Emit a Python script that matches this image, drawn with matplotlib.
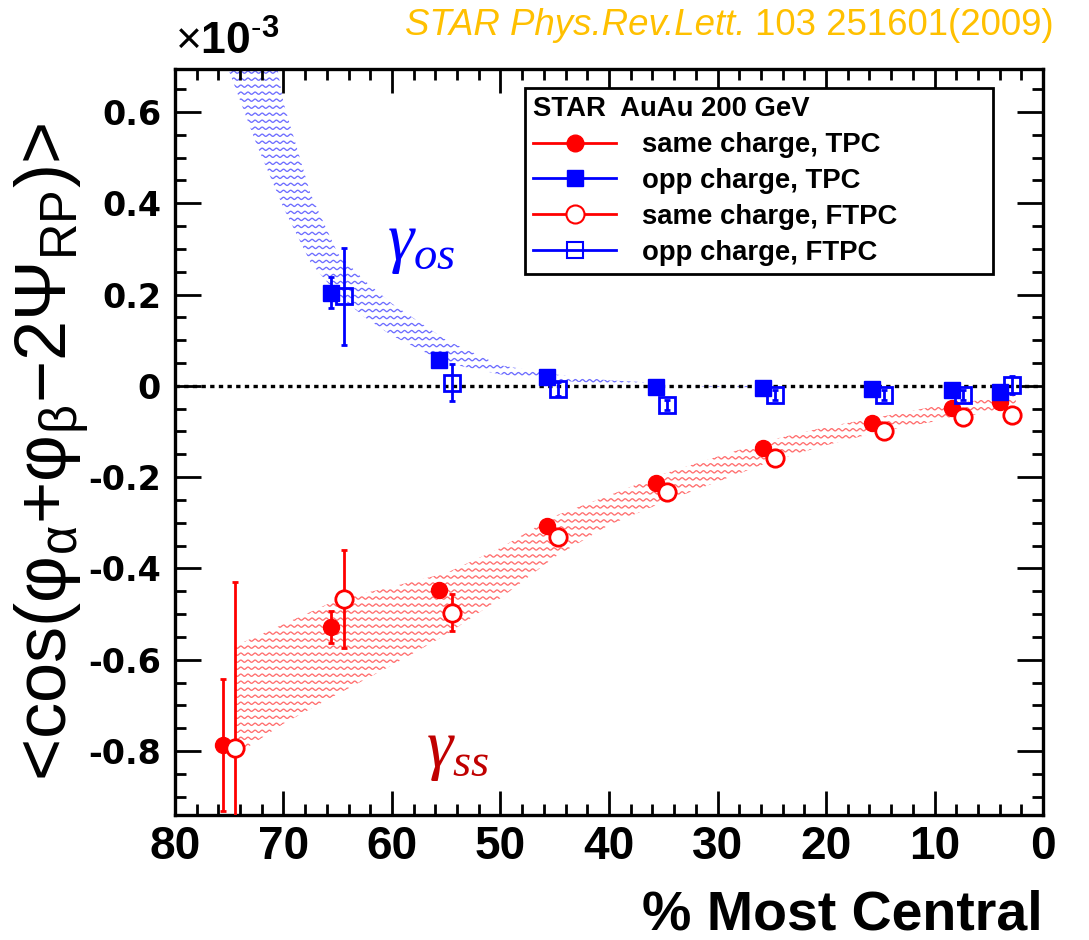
import numpy as np
import matplotlib.pyplot as plt
from matplotlib.lines import Line2D
from matplotlib.ticker import MultipleLocator, FuncFormatter

plt.rcParams['axes.unicode_minus'] = False
plt.rcParams['mathtext.fontset'] = 'custom'
plt.rcParams['mathtext.rm'] = 'Liberation Sans'
plt.rcParams['mathtext.it'] = 'Liberation Serif:italic'
plt.rcParams['mathtext.bf'] = 'Liberation Sans:bold'

# centrality of each bin (TPC and FTPC points sit slightly apart)
cent_tpc = [75.6, 65.6, 55.7, 45.7, 35.7, 25.8, 15.8, 8.4, 4.0]
cent_ftpc = [74.5, 64.4, 54.5, 44.7, 34.7, 24.7, 14.7, 7.4, 2.9]

# same charge correlator (x 1e-3)
ss_tpc = [-0.787, -0.528, -0.447, -0.307, -0.212, -0.136, -0.081, -0.048, -0.035]
ss_tpc_err = [0.145, 0.035, 0.012, 0.010, 0.008, 0.007, 0.006, 0.006, 0.006]
ss_ftpc = [-0.793, -0.467, -0.497, -0.330, -0.232, -0.158, -0.099, -0.068, -0.064]
ss_ftpc_err = [0.363, 0.108, 0.041, 0.015, 0.012, 0.010, 0.010, 0.010, 0.010]

# opposite charge correlator (x 1e-3), most peripheral TPC bin is off scale
os_tpc = [0.204, 0.057, 0.020, -0.002, -0.005, -0.007, -0.009, -0.013]
os_tpc_err = [0.034, 0.010, 0.008, 0.006, 0.005, 0.005, 0.005, 0.005]
os_ftpc = [0.196, 0.007, -0.007, -0.042, -0.020, -0.020, -0.020, 0.002]
os_ftpc_err = [0.106, 0.040, 0.015, 0.012, 0.010, 0.010, 0.010, 0.020]

# systematic bands
band_os_x = [75.5, 72.5, 70, 67.5, 65, 62.5, 60, 57.5, 55, 50, 45, 40, 35, 30, 27]
band_os_lo = [0.72, 0.53, 0.39, 0.27, 0.20, 0.15, 0.11, 0.08, 0.05, 0.025, 0.012, 0.004, 0.0, -0.002, -0.003]
band_os_hi = [1.40, 0.95, 0.62, 0.42, 0.29, 0.23, 0.18, 0.14, 0.10, 0.045, 0.025, 0.012, 0.006, 0.003, 0.002]

band_ss_x = [74.5, 70, 65, 60, 55, 50, 45, 40, 35, 30, 25, 20, 15, 10, 7, 2.5]
band_ss_hi = [-0.57, -0.522, -0.468, -0.44, -0.41, -0.355, -0.285, -0.24, -0.193, -0.155, -0.118, -0.09, -0.068, -0.045, -0.035, -0.02]
band_ss_lo = [-0.81, -0.74, -0.675, -0.612, -0.545, -0.465, -0.375, -0.305, -0.255, -0.21, -0.165, -0.13, -0.10, -0.078, -0.065, -0.053]

W, H = 1089, 940
fig = plt.figure(figsize=(W / 100, H / 100), dpi=100)
ax = fig.add_axes([175 / W, 1 - 815 / H, 868 / W, 746 / H])


def wavy_band(x, lo, hi, color):
    # ROOT style wavy fill: sine lines clipped to the band outline
    fb = ax.fill_between(x, lo, hi, facecolor='none', edgecolor='none')
    clip = fb.get_paths()[0]
    xs = np.linspace(0, 1, 3000)
    for y0 in np.arange(-0.01, 1.01, 0.0094):
        ln, = ax.plot(xs, y0 + 0.0015 * np.sin(2 * np.pi * xs / 0.0082),
                      transform=ax.transAxes, color=color, lw=0.95, zorder=1)
        ln.set_clip_path(clip, ax.transData)


wavy_band(band_os_x, band_os_lo, band_os_hi, '#6e6eff')
wavy_band(band_ss_x, band_ss_lo, band_ss_hi, '#ff6e6e')

ax.axhline(0, color='k', lw=2.4, ls=(0, (1.3, 1.3)), zorder=2)

eb = dict(elinewidth=2, capsize=2.5, capthick=2, zorder=3)
ax.errorbar(cent_tpc, ss_tpc, yerr=ss_tpc_err, fmt='o', color='r', ms=11.5, **eb)
ax.errorbar(cent_tpc[1:], os_tpc, yerr=os_tpc_err, fmt='s', color='b', ms=11, **eb)
ax.errorbar(cent_ftpc, ss_ftpc, yerr=ss_ftpc_err, fmt='o', color='r', ms=12.5,
            mfc='white', mew=2, **eb)
ax.errorbar(cent_ftpc[1:], os_ftpc, yerr=os_ftpc_err, fmt='s', color='b', ms=11.5,
            mfc='none', mew=2, **eb)

ax.set_xlim(80, 0)
ax.set_ylim(-0.94, 0.694)
ax.xaxis.set_major_locator(MultipleLocator(10))
ax.xaxis.set_minor_locator(MultipleLocator(2))
ax.yaxis.set_major_locator(MultipleLocator(0.2))
ax.yaxis.set_minor_locator(MultipleLocator(0.05))
ax.yaxis.set_major_formatter(FuncFormatter(lambda v, p: '0' if abs(v) < 1e-9 else f'{v:.1f}'))
ax.xaxis.set_major_formatter(FuncFormatter(lambda v, p: f'{v:.0f}'))
ax.tick_params(which='both', direction='in', top=True, right=True, width=2, color='k')
ax.tick_params(which='major', length=17)
ax.tick_params(which='minor', length=8)
ax.tick_params(axis='y', which='major', length=19)
ax.tick_params(axis='y', labelsize=24, pad=10)
ax.tick_params(axis='x', labelsize=33, pad=7)
for lab in ax.get_yticklabels():
    lab.set_fontfamily('DejaVu Sans')
    lab.set_fontweight('bold')
for lab in ax.get_xticklabels():
    lab.set_fontfamily('Liberation Sans')
    lab.set_fontweight('bold')
for sp in ax.spines.values():
    sp.set_linewidth(2.4)

ax.set_xlabel('% Most Central', fontsize=40, fontweight='bold', family='Liberation Sans',
              loc='right', labelpad=15)
ax.set_ylabel('<cos(' + r'$\mathrm{\varphi_{\alpha}}$' + '+' + r'$\mathrm{\varphi_{\beta}}$'
              + '−2' + r'$\mathrm{\Psi_{RP}}$' + ')>',
              fontsize=52, family='Liberation Sans')
ax.yaxis.set_label_coords(-0.097, 0.487)

fig.text(175 / W, 1 - 64 / H, r'$\times\mathbf{10^{\text{-}3}}$', fontsize=32, va='bottom', ha='left')

ax.text(387 / W, 1 - 243 / H, r'$\gamma_{os}$', transform=fig.transFigure,
        fontsize=48, color='#0000ff', va='center', ha='left')
ax.text(426 / W, 1 - 750 / H, r'$\gamma_{ss}$', transform=fig.transFigure,
        fontsize=48, color='#c00000', va='center', ha='left')

ref_num = fig.text(1054 / W, 1 - 35 / H, ' 103 251601(2009)', fontsize=26.4,
                   color='#ffc000', family='Liberation Sans', ha='right', va='baseline')
ax.annotate('STAR Phys.Rev.Lett.', xy=(0, 0), xycoords=ref_num, fontsize=26.4,
            color='#ffc000', family='Liberation Sans', style='italic',
            ha='right', va='bottom', annotation_clip=False)

labels = ['same charge, TPC', 'opp charge, TPC', 'same charge, FTPC', 'opp charge, FTPC']
handles = [
    Line2D([], [], color='r', lw=2, marker='o', ms=12),
    Line2D([], [], color='b', lw=2, marker='s', ms=12),
    Line2D([], [], color='r', lw=2, marker='o', ms=13, mfc='white', mew=1.5),
    Line2D([], [], color='b', lw=2, marker='s', ms=12, mfc='none', mew=1.5),
]
leg = ax.legend(handles, labels, title='STAR  AuAu 200 GeV', loc='upper left',
                bbox_to_anchor=(525 / W, 1 - 268 / H, 468 / W, 180 / H),
                bbox_transform=fig.transFigure, mode='expand', borderaxespad=0,
                fancybox=False, edgecolor='k', framealpha=1,
                prop=dict(family='Liberation Sans', weight='bold', size=19.8),
                title_fontproperties=dict(family='Liberation Sans', weight='bold', size=19.8),
                alignment='left', handlelength=3.0, handletextpad=0.95,
                labelspacing=0.36, borderpad=0.3)
leg.get_frame().set_linewidth(2)
leg.set_zorder(5)

fig.savefig('out.png', dpi=100)
